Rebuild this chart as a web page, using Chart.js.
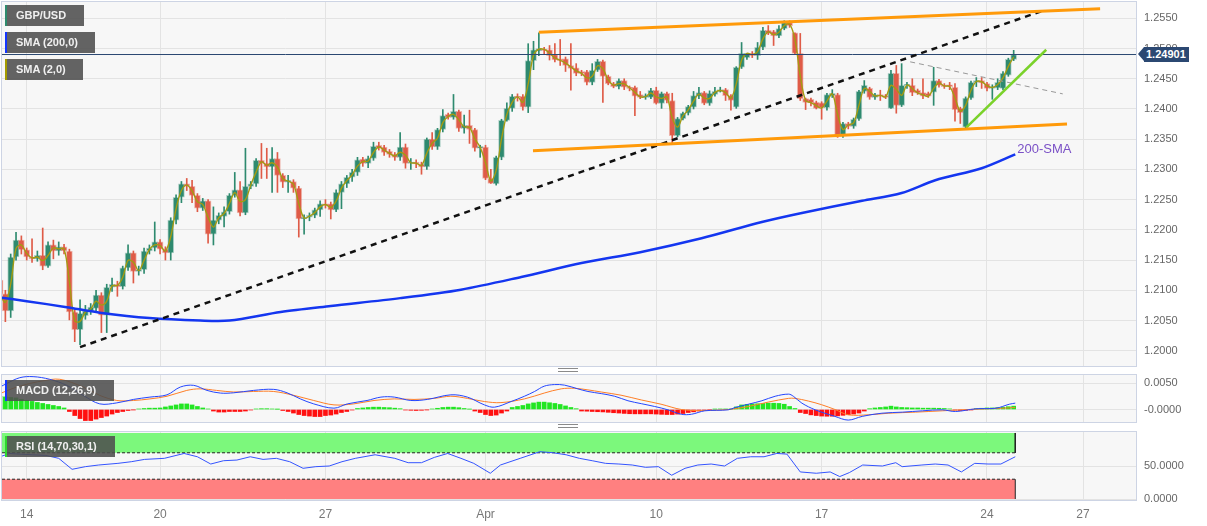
<!DOCTYPE html>
<html>
<head>
<meta charset="utf-8">
<script src="https://cdn.jsdelivr.net/npm/chart.js@4.4.0/dist/chart.umd.min.js"></script>
<style>
  body { margin: 0; background: #fff; width: 1207px; height: 526px; overflow: hidden; position: relative;
         font-family: "Liberation Sans", Arial, sans-serif; }
  canvas { position: absolute; left: 0; }
  .tag { position: absolute; left: 5px; height: 21px; line-height: 21px; box-sizing: border-box;
         background: rgba(78, 78, 78, 0.88); color: #f0f0f0; font-size: 11px; font-weight: bold;
         padding-left: 9px; border-left: 2px solid; white-space: nowrap; }
  .price { position: absolute; height: 15px; line-height: 15px; background: #2b4872; color: #fff;
           font-size: 11px; font-weight: bold; padding: 0 3px 0 2px; }
  .price::before { content: ''; position: absolute; left: -6px; top: 0; border-right: 6px solid #2b4872;
                   border-top: 7.5px solid transparent; border-bottom: 7.5px solid transparent; }
  .smaText { position: absolute; color: #7a50c6; font-size: 13px; }
  .grip { position: absolute; left: 558px; width: 20px; height: 2px; border-top: 1px solid #8a8a8a;
          border-bottom: 1px solid #8a8a8a; }
</style>
</head>
<body>
<canvas id="main" width="1207" height="368" style="top:0"></canvas>
<canvas id="macd" width="1207" height="52" style="top:372px"></canvas>
<canvas id="rsi" width="1207" height="98" style="top:428px"></canvas>

<div class="tag" style="top:5px;width:79px;border-color:#2e8b6e">GBP/USD</div>
<div class="tag" style="top:32px;width:90px;border-color:#1436ff">SMA (200,0)</div>
<div class="tag" style="top:59px;width:78px;border-color:#a39b00">SMA (2,0)</div>
<div class="tag" style="top:380px;width:109px;border-color:#1436ff">MACD (12,26,9)</div>
<div class="tag" style="top:436px;width:110px;border-color:#2fd82f">RSI (14,70,30,1)</div>
<div class="grip" style="top:368px"></div>
<div class="grip" style="top:424px"></div>
<div class="price" id="priceTag">1.24901</div>
<div class="smaText" id="smaText">200-SMA</div>

<script>
// GBP/USD 4-hour chart, 14 Mar - 25 Apr, with MACD and RSI panes
Chart.defaults.font.family = '"Liberation Sans", Arial, sans-serif';
Chart.defaults.animation = false;

// candle index 0 = Mar 14 00:00, one step per 4h bar
const candleStart = -5;
const opens = [
  1.2117,1.2094,1.2066,1.2155,1.2183,1.2167,1.2155,1.2152,1.2158,1.2140,
  1.2175,1.2165,1.2172,1.2165,1.2064,1.2035,1.2058,1.2066,1.2070,1.2092,
  1.2059,1.2105,1.2110,1.2106,1.2137,1.2162,1.2131,1.2134,1.2165,1.2170,
  1.2180,1.2168,1.2162,1.2216,1.2254,1.2276,1.2272,1.2257,1.2236,1.2248,
  1.2193,1.2216,1.2222,1.2230,1.2257,1.2266,1.2228,1.2272,1.2276,1.2315,
  1.2310,1.2304,1.2318,1.2290,1.2279,1.2280,1.2269,1.2218,1.2221,1.2224,
  1.2233,1.2243,1.2243,1.2233,1.2262,1.2276,1.2287,1.2295,1.2317,1.2310,
  1.2318,1.2340,1.2337,1.2330,1.2325,1.2320,1.2337,1.2310,1.2312,1.2309,
  1.2304,1.2350,1.2337,1.2366,1.2391,1.2386,1.2396,1.2368,1.2373,1.2366,
  1.2335,1.2337,1.2285,1.2276,1.2320,1.2381,1.2401,1.2421,1.2421,1.2403,
  1.2480,1.2496,1.2498,1.2498,1.2490,1.2483,1.2483,1.2472,1.2468,1.2462,
  1.2462,1.2444,1.2464,1.2479,1.2454,1.2442,1.2437,1.2447,1.2436,1.2436,
  1.2424,1.2419,1.2419,1.2431,1.2409,1.2426,1.2414,1.2356,1.2384,1.2393,
  1.2403,1.2421,1.2427,1.2409,1.2424,1.2429,1.2432,1.2422,1.2403,1.2469,
  1.2485,1.2492,1.2488,1.2502,1.2530,1.2528,1.2521,1.2533,1.2543,1.2526,
  1.2492,1.2417,1.2416,1.2411,1.2410,1.2402,1.2422,1.2424,1.2356,1.2376,
  1.2371,1.2383,1.2429,1.2434,1.2419,1.2424,1.2422,1.2401,1.2459,1.2406,
  1.2439,1.2439,1.2431,1.2427,1.2426,1.2428,1.2447,1.2440,1.2440,1.2436,
  1.2401,1.2370,1.2418,1.2444,1.2447,1.2442,1.2434,1.2435,1.2434,1.2456,
  1.2482
];
const highs = [
  1.2125,1.2100,1.2160,1.2196,1.2190,1.2170,1.2185,1.2165,1.2203,1.2180,
  1.2183,1.2180,1.2176,1.2168,1.2068,1.2084,1.2075,1.2078,1.2100,1.2096,
  1.2110,1.2120,1.2115,1.2140,1.2175,1.2165,1.2140,1.2170,1.2175,1.2213,
  1.2184,1.2172,1.2220,1.2258,1.2280,1.2285,1.2282,1.2260,1.2252,1.2250,
  1.2238,1.2228,1.2238,1.2260,1.2295,1.2280,1.2335,1.2280,1.2318,1.2343,
  1.2335,1.2336,1.2328,1.2293,1.2290,1.2283,1.2272,1.2225,1.2228,1.2236,
  1.2248,1.2250,1.2246,1.2266,1.2280,1.2290,1.2300,1.2320,1.2320,1.2322,
  1.2345,1.2345,1.2340,1.2333,1.2328,1.2361,1.2342,1.2318,1.2316,1.2312,
  1.2352,1.2361,1.2368,1.2399,1.2393,1.2424,1.2398,1.2390,1.2398,1.2368,
  1.2340,1.2340,1.2300,1.2322,1.2383,1.2410,1.2424,1.2425,1.2424,1.2508,
  1.2512,1.2526,1.2502,1.2505,1.2508,1.2515,1.2486,1.2508,1.2475,1.2464,
  1.2464,1.2475,1.2482,1.2481,1.2456,1.2444,1.2450,1.2450,1.2438,1.2438,
  1.2429,1.2425,1.2434,1.2436,1.2428,1.2428,1.2426,1.2386,1.2395,1.2406,
  1.2429,1.2436,1.2429,1.2430,1.2436,1.2436,1.2434,1.2424,1.2470,1.2510,
  1.2492,1.2495,1.2510,1.2535,1.2538,1.2530,1.2538,1.2546,1.2546,1.2526,
  1.2525,1.2418,1.2418,1.2413,1.2412,1.2426,1.2432,1.2426,1.2378,1.2378,
  1.2385,1.2431,1.2447,1.2436,1.2426,1.2431,1.2424,1.2464,1.2472,1.2475,
  1.2444,1.2450,1.2433,1.2450,1.2428,1.2469,1.2449,1.2442,1.2444,1.2442,
  1.2403,1.2420,1.2446,1.2452,1.2452,1.2444,1.2440,1.2450,1.2462,1.2484,
  1.2497
];
const lows = [
  1.2080,1.2048,1.2055,1.2150,1.2160,1.2150,1.2146,1.2148,1.2134,1.2138,
  1.2152,1.2158,1.2160,1.2051,1.2015,1.2010,1.2052,1.2060,1.2065,1.2030,
  1.2030,1.2098,1.2090,1.2102,1.2133,1.2112,1.2125,1.2128,1.2160,1.2165,
  1.2160,1.2150,1.2150,1.2210,1.2245,1.2265,1.2245,1.2230,1.2232,1.2178,
  1.2175,1.2210,1.2205,1.2226,1.2254,1.2223,1.2225,1.2268,1.2272,1.2285,
  1.2285,1.2262,1.2262,1.2270,1.2262,1.2262,1.2188,1.2193,1.2215,1.2220,
  1.2222,1.2236,1.2218,1.2230,1.2235,1.2270,1.2280,1.2290,1.2305,1.2303,
  1.2315,1.2332,1.2323,1.2320,1.2315,1.2315,1.2302,1.2300,1.2303,1.2292,
  1.2300,1.2333,1.2333,1.2362,1.2383,1.2383,1.2363,1.2360,1.2343,1.2330,
  1.2320,1.2283,1.2277,1.2274,1.2316,1.2380,1.2396,1.2413,1.2398,1.2394,
  1.2465,1.2488,1.2490,1.2481,1.2478,1.2472,1.2462,1.2431,1.2455,1.2455,
  1.2440,1.2440,1.2462,1.2411,1.2440,1.2435,1.2433,1.2432,1.2430,1.2389,
  1.2417,1.2416,1.2417,1.2408,1.2401,1.2410,1.2343,1.2354,1.2382,1.2390,
  1.2400,1.2417,1.2407,1.2406,1.2421,1.2428,1.2414,1.2398,1.2401,1.2467,
  1.2482,1.2485,1.2482,1.2498,1.2523,1.2505,1.2518,1.2531,1.2535,1.2490,
  1.2414,1.2399,1.2405,1.2400,1.2383,1.2398,1.2419,1.2353,1.2353,1.2367,
  1.2368,1.2381,1.2426,1.2416,1.2416,1.2414,1.2417,1.2401,1.2393,1.2404,
  1.2434,1.2422,1.2424,1.2417,1.2419,1.2406,1.2436,1.2434,1.2432,1.2380,
  1.2376,1.2367,1.2416,1.2437,1.2434,1.2430,1.2416,1.2432,1.2432,1.2454,
  1.2480
];
const closes = [
  1.2094,1.2066,1.2155,1.2183,1.2167,1.2155,1.2152,1.2158,1.2140,1.2175,
  1.2165,1.2172,1.2165,1.2064,1.2035,1.2062,1.2066,1.2072,1.2092,1.2059,
  1.2105,1.2110,1.2106,1.2137,1.2162,1.2131,1.2134,1.2165,1.2170,1.2180,
  1.2168,1.2162,1.2216,1.2254,1.2276,1.2272,1.2257,1.2236,1.2248,1.2193,
  1.2216,1.2224,1.2230,1.2257,1.2266,1.2228,1.2272,1.2276,1.2315,1.2310,
  1.2304,1.2318,1.2290,1.2279,1.2282,1.2269,1.2218,1.2221,1.2224,1.2233,
  1.2243,1.2241,1.2233,1.2262,1.2276,1.2287,1.2295,1.2316,1.2310,1.2318,
  1.2338,1.2336,1.2328,1.2325,1.2320,1.2337,1.2310,1.2312,1.2309,1.2304,
  1.2350,1.2337,1.2366,1.2389,1.2386,1.2396,1.2368,1.2373,1.2366,1.2335,
  1.2338,1.2285,1.2277,1.2320,1.2381,1.2401,1.2421,1.2419,1.2403,1.2480,
  1.2498,1.2500,1.2497,1.2488,1.2481,1.2480,1.2472,1.2467,1.2459,1.2459,
  1.2444,1.2464,1.2479,1.2454,1.2442,1.2437,1.2447,1.2436,1.2434,1.2421,
  1.2419,1.2422,1.2431,1.2409,1.2426,1.2414,1.2356,1.2384,1.2393,1.2404,
  1.2422,1.2427,1.2409,1.2426,1.2429,1.2432,1.2422,1.2414,1.2469,1.2492,
  1.2492,1.2488,1.2502,1.2530,1.2525,1.2521,1.2533,1.2543,1.2538,1.2492,
  1.2417,1.2411,1.2410,1.2401,1.2402,1.2424,1.2426,1.2356,1.2376,1.2371,
  1.2383,1.2429,1.2439,1.2419,1.2424,1.2421,1.2419,1.2459,1.2406,1.2439,
  1.2440,1.2427,1.2426,1.2421,1.2421,1.2447,1.2439,1.2437,1.2437,1.2399,
  1.2394,1.2418,1.2444,1.2447,1.2443,1.2434,1.2437,1.2444,1.2459,1.2482,
  1.2490
];
const lastPrice = 1.24901;

// 200-period SMA, read at sample points [candle index, price]
const sma200 = [
  [-5,1.2088],[0,1.2082],[7.5,1.2072],[13.7,1.2063],[23,1.2054],[32.5,1.2050],[38,1.2050],
  [47.6,1.2064],[57,1.2074],[70,1.2087],[81.4,1.2101],[92.7,1.2122],[104,1.2145],[115,1.2163],
  [126.5,1.2186],[137.8,1.2213],[145.3,1.2228],[156.6,1.2248],[164,1.2261],[170.3,1.2282],
  [179,1.2302],[185.3,1.2325]
];

// drawn trend lines [candle index, price]
const channelTop = [[96.0,1.2527],[201.2,1.2566]];
const channelBottom = [[94.9,1.2331],[195.0,1.2375]];
const longSupport = [[10.0,1.2006],[190.9,1.2564]];
const shortSupport = [[176.1,1.2369],[191.1,1.2498]];
const minorResistance = [[165.6,1.2478],[194.2,1.2425]];

// MACD (12,26,9)
const macdHist = [
  0.00247,0.00238,0.00228,0.00219,0.0019,0.00171,0.00152,0.00133,0.00114,0.00095,
  0.00076,0.00057,0.00029,-0.00038,-0.00114,-0.00171,-0.00209,-0.00209,-0.00181,-0.00152,
  -0.00124,-0.00086,-0.00057,-0.00038,-0.00019,-0.00006,0.0001,0.00019,0.00025,0.00025,
  0.00029,0.00048,0.00067,0.00086,0.00105,0.00105,0.00086,0.00057,0.00029,0.0001,
  -0.00029,-0.00048,-0.00048,-0.00038,-0.00038,-0.00038,-0.00029,-0.0001,0.0001,0.00015,
  0.00015,0.0001,0.00004,-0.00019,-0.00038,-0.00067,-0.00095,-0.00114,-0.00124,-0.00133,
  -0.00133,-0.00114,-0.00105,-0.00086,-0.00057,-0.00038,-0.0001,0.00019,0.00029,0.00038,
  0.00044,0.00044,0.00038,0.00034,0.00025,0.00015,-0.0001,-0.00015,-0.00019,-0.00015,
  -0.00006,0.0001,0.00023,0.00038,0.00044,0.00044,0.00034,0.00019,0.00006,-0.00029,
  -0.00057,-0.00095,-0.00114,-0.00105,-0.00067,-0.00029,0.00038,0.00057,0.00076,0.00105,
  0.00124,0.00139,0.00139,0.00127,0.00114,0.00095,0.00067,0.00038,0.00015,-0.00029,
  -0.00032,-0.00038,-0.00042,-0.00046,-0.00053,-0.00061,-0.00067,-0.00074,-0.0008,-0.00082,
  -0.00082,-0.00082,-0.00082,-0.00086,-0.00091,-0.00095,-0.00095,-0.00087,-0.00076,-0.00057,
  -0.00044,-0.00029,-0.00015,-0.00006,0.00006,0.0001,0.0001,0.00006,0.00048,0.00086,
  0.00095,0.00105,0.00108,0.00114,0.0012,0.00118,0.00114,0.00099,0.00057,0.00019,
  -0.00057,-0.00076,-0.00101,-0.00114,-0.00124,-0.00127,-0.00127,-0.0012,-0.0011,-0.00099,
  -0.00086,-0.00067,-0.00029,0.00015,0.00029,0.00038,0.00048,0.00063,0.00048,0.00038,
  0.00034,0.00029,0.00029,0.00025,0.00025,0.00025,0.00023,0.00019,0.00011,-0.00011,
  -0.00019,-0.00015,-0.00006,0.00015,0.00023,0.00029,0.00029,0.00034,0.00042,0.00053,
  0.00063
];
const macdLine = [
  [-5,0.00424],[-3.8,0.00487],[-1.3,0.0060],[1.2,0.0062],[4.3,0.0057],[7.5,0.00456],[10.6,0.00266],
  [13.7,0.00106],[16.9,0.00125],[20,0.0019],[23.1,0.00234],[26.3,0.00277],[28.8,0.00424],[31.3,0.00456],
  [33.8,0.0036],[36.3,0.0031],[38.8,0.00315],[42.5,0.0036],[46.3,0.0038],[48.8,0.00315],[51.3,0.002],
  [53.8,0.00106],[57.6,0.00025],[60.1,0.00106],[63.8,0.0017],[66.4,0.00234],[68.9,0.00234],[72,0.0017],
  [75.1,0.0019],[79.5,0.00277],[82.6,0.00234],[85.8,0.00087],[87.7,0.00044],[90.8,0.0015],[93.3,0.0025],
  [95.2,0.0034],[97,0.0044],[98.9,0.0047],[100.8,0.0046],[103.3,0.0039],[105.2,0.0034],[107.7,0.003],
  [110.2,0.0025],[112.7,0.00165],[115.2,0.0011],[117.7,0.00057],[120.2,-0.00006],[122.7,-0.0009],
  [124.6,-0.0009],[127.1,-0.00025],[131.5,-0.00006],[132.8,0.00038],[135.3,0.001],[137.8,0.00165],
  [140.3,0.0025],[142.8,0.0029],[143.7,0.0025],[145.3,0.0012],[147.8,-0.00006],[151.5,-0.0013],
  [154,-0.002],[156.6,-0.0013],[160.3,-0.0007],[164.2,-0.0005],[167.9,-0.00025],[171.6,-0.00006],
  [174.1,-0.00038],[177.9,0.00013],[181.7,0.00025],[184.2,0.001],[185.3,0.0012]
];
const signalLine = [
  [-5,0.0030],[-2,0.0042],[1,0.0050],[3,0.0054],[6.2,0.0057],[10.6,0.00424],[13.7,0.00266],
  [16.9,0.0017],[20,0.0017],[23.1,0.002],[26.3,0.0025],[30,0.0036],[32.5,0.0039],[35.6,0.0036],
  [38.8,0.0033],[42.5,0.0034],[46.3,0.0034],[50.1,0.00266],[53.8,0.0017],[57.6,0.00087],[61.3,0.00106],
  [65.1,0.0017],[68.9,0.002],[72.6,0.0019],[76.4,0.0021],[79.5,0.0025],[82.6,0.0021],[85.8,0.0015],
  [88.9,0.0013],[93.3,0.002],[97,0.0031],[100.2,0.0039],[102.7,0.004],[105.2,0.0037],[107.7,0.0033],
  [111.4,0.0027],[115.2,0.0018],[118.9,0.001],[122.7,0],[126.5,-0.0002],[131.5,0],[135.3,0.00057],
  [139,0.0014],[142.8,0.0021],[144,0.0021],[146.5,0.0016],[149,0.0009],[151.5,0],[154,-0.001],
  [157.8,-0.001],[161.6,-0.0007],[166.6,-0.0005],[171.6,-0.00025],[176.6,0],[184.2,0.0003],[185.3,0.0004]
];

// RSI (14), read at sample points
const rsiLine = [
  [-5,64],[-3.2,69],[-1.4,68],[1.1,67],[3.6,66],[6,61.6],[8.5,45],[11,49],[13.5,51.5],[17.1,54],
  [19.6,56.5],[22.1,60],[25.8,61.6],[29.5,69],[32,64],[34.5,53],[36.9,58],[39.4,59],[41.9,64],[44.3,60],
  [46.8,61.6],[49.3,56.5],[51.8,46.5],[54.2,49],[56.7,50],[59.1,56.5],[61.6,61.6],[65.3,67],[69,61.6],
  [71.5,55],[74,55],[76.4,63],[78.9,69],[81.4,61.6],[83.8,54],[86.9,39],[88.8,51.5],[92.5,61.6],
  [96.2,71.7],[98.7,70],[101.1,67],[103.6,61.6],[106,58],[108.5,54],[111,53],[113.5,51.5],[116,48],
  [118.4,49],[120.9,36],[123.4,46.5],[125.8,51.5],[128.3,53],[130.8,50],[133.2,61.6],[135.7,64],
  [138.2,64],[140.6,69],[142.5,68],[145,41],[148,39],[150.6,41],[152.4,34],[154.2,40],[156.7,51.5],
  [160.4,50],[162.9,55],[164.1,49],[167.8,51.5],[170.3,53],[172.7,51.5],[175.2,41],[177.7,54],
  [180.2,53],[182.6,53],[185.3,64]
];
const rsiOverbought = 70;
const rsiOversold = 30;

const dateTickPos = [0, 25, 56, 86, 118, 149, 180, 198];
const dateTickLabels = ['14', '20', '27', 'Apr', '10', '17', '24', '27'];
const priceTicks = [1.2000,1.2050,1.2100,1.2150,1.2200,1.2250,1.2300,1.2350,1.2400,1.2450,1.2500,1.2550];
const macdTicks = [0, 0.005];
const rsiTicks = [0, 50];

// layout
const X_MIN = -4.63, X_MAX = 207.93;
const AXIS_W = 71;
const GREEN = '#2e8a6f', RED = '#df5b47';
const GRID = '#e3e3e3';

const candleIdx = opens.map((_, k) => candleStart + k);
const isUp = k => closes[k] >= opens[k];
const pts = arr => arr.map(p => ({ x: p[0], y: p[1] }));
const lastIdx = candleIdx[candleIdx.length - 1];
const bandEnd = lastIdx + 0.3;

const panelFrame = {
  id: 'panelFrame',
  beforeDraw(chart) {
    const { ctx, chartArea: a } = chart;
    ctx.save();
    ctx.fillStyle = '#f7f7f7';
    ctx.fillRect(a.left, a.top, a.width, a.height);
    ctx.restore();
  },
  afterDraw(chart) {
    const { ctx, chartArea: a } = chart;
    ctx.save();
    ctx.strokeStyle = '#cdd4e4';
    ctx.lineWidth = 1;
    ctx.strokeRect(a.left - 0.5, a.top - 0.5, a.width + 1, a.height + 1);
    ctx.restore();
  }
};

function xAxis(showLabels) {
  return {
    type: 'linear', min: X_MIN, max: X_MAX, offset: false,
    afterBuildTicks: s => { s.ticks = dateTickPos.map(v => ({ value: v })); },
    afterFit: s => {
      s.height = showLabels ? 26 : 0;
      s.paddingLeft = 0; s.paddingRight = 0;
    },
    grid: { color: GRID, drawTicks: false, offset: false },
    border: { display: false },
    ticks: {
      display: showLabels, autoSkip: false, maxRotation: 0, padding: 7,
      color: '#777', font: { size: 12 },
      callback: (v, i) => dateTickLabels[i]
    }
  };
}

function yAxis(min, max, tickList, fmt) {
  return {
    position: 'right', min, max,
    afterBuildTicks: s => { s.ticks = tickList.map(v => ({ value: v })); },
    afterFit: s => {
      s.width = AXIS_W;
      s.paddingTop = 0; s.paddingBottom = 0;
    },
    grid: { color: GRID, drawTicks: false },
    border: { display: false },
    ticks: { color: '#666', font: { size: 11 }, padding: 8, callback: fmt }
  };
}

function trend(data, color, width, dash) {
  return {
    type: 'line', data: pts(data), borderColor: color, borderWidth: width,
    borderDash: dash || [], pointRadius: 0, borderCapStyle: 'butt', order: 1
  };
}

const baseOpts = {
  responsive: false,
  events: [],
  plugins: { legend: { display: false }, tooltip: { enabled: false } }
};

const mainChart = new Chart(document.getElementById('main'), {
  type: 'bar',
  data: {
    datasets: [
      {
        label: 'wicks',
        data: candleIdx.map((j, k) => ({ x: j, y: [lows[k], highs[k]] })),
        backgroundColor: c => isUp(c.dataIndex) ? GREEN : RED,
        barThickness: 1, grouped: false, order: 10
      },
      {
        label: 'GBP/USD',
        data: candleIdx.map((j, k) => ({ x: j, y: [opens[k], closes[k]] })),
        backgroundColor: c => isUp(c.dataIndex) ? GREEN : RED,
        borderColor: c => isUp(c.dataIndex) ? 'rgba(46,138,111,0.35)' : 'rgba(223,91,71,0.4)',
        borderWidth: 1, borderSkipped: false, barThickness: 6, minBarLength: 1,
        grouped: false, order: 9
      },
      {
        type: 'line', label: 'SMA (2,0)',
        data: candleIdx.map((j, k) => ({ x: j, y: k ? (closes[k] + closes[k - 1]) / 2 : closes[k] })),
        borderColor: '#a39b12', borderWidth: 1.4, pointRadius: 0, tension: 0.35, order: 8
      },
      {
        type: 'line', label: 'last',
        data: [{ x: X_MIN, y: lastPrice }, { x: X_MAX, y: lastPrice }],
        borderColor: '#2b4872', borderWidth: 1, pointRadius: 0, order: 7
      },
      {
        type: 'line', label: 'SMA (200,0)', data: pts(sma200),
        borderColor: '#1436f0', borderWidth: 2.5, pointRadius: 0, tension: 0.3, order: 6
      },
      trend(channelTop, '#ff9a0a', 3),
      trend(channelBottom, '#ff9a0a', 3),
      trend(longSupport, '#111', 2.5, [6, 5]),
      trend(shortSupport, '#7ad22a', 2.5),
      trend(minorResistance, '#999', 1, [5, 4])
    ]
  },
  options: {
    ...baseOpts,
    layout: { padding: { left: 2, right: 0, top: 2, bottom: 2 } },
    scales: {
      x: xAxis(false),
      y: yAxis(1.19747, 1.25770, priceTicks, v => v.toFixed(4))
    }
  },
  plugins: [panelFrame]
});

new Chart(document.getElementById('macd'), {
  type: 'bar',
  data: {
    datasets: [
      {
        label: 'hist',
        data: candleIdx.map((j, k) => ({ x: j, y: macdHist[k] })),
        backgroundColor: c => macdHist[c.dataIndex] >= 0 ? '#22e622' : '#ff1010',
        barThickness: 4, grouped: false, order: 3
      },
      {
        type: 'line', label: 'signal', data: pts(signalLine),
        borderColor: '#ff7f27', borderWidth: 1, pointRadius: 0, tension: 0.35, order: 2
      },
      {
        type: 'line', label: 'MACD', data: pts(macdLine),
        borderColor: '#2446ff', borderWidth: 1, pointRadius: 0, tension: 0.35, order: 1
      }
    ]
  },
  options: {
    ...baseOpts,
    layout: { padding: { left: 2, right: 0, top: 3, bottom: 2 } },
    scales: {
      x: xAxis(false),
      y: yAxis(-0.00236, 0.00651, macdTicks, v => v === 0 ? '-0.0000' : v.toFixed(4))
    }
  },
  plugins: [panelFrame]
});

function bandEdge(level, from) {
  return [
    { type: 'line', data: [{ x: X_MIN, y: level }, { x: bandEnd, y: level }], borderColor: '#222',
      borderWidth: 1, borderDash: [3, 2], pointRadius: 0, order: 2 },
    { type: 'line', data: [{ x: bandEnd, y: from }, { x: bandEnd, y: level }], borderColor: '#222',
      borderWidth: 1, pointRadius: 0, order: 2 }
  ];
}

new Chart(document.getElementById('rsi'), {
  type: 'line',
  data: {
    datasets: [
      { data: [{ x: X_MIN, y: 100 }, { x: bandEnd, y: 100 }], fill: { value: rsiOverbought },
        backgroundColor: '#7cf87c', borderWidth: 0, pointRadius: 0, order: 5 },
      { data: [{ x: X_MIN, y: rsiOversold }, { x: bandEnd, y: rsiOversold }], fill: { value: 0 },
        backgroundColor: '#ff8080', borderWidth: 0, pointRadius: 0, order: 5 },
      ...bandEdge(rsiOverbought, 100),
      ...bandEdge(rsiOversold, 0),
      { label: 'RSI', data: pts(rsiLine), borderColor: '#3454ff', borderWidth: 1, pointRadius: 0, order: 1 }
    ]
  },
  options: {
    ...baseOpts,
    layout: { padding: { left: 2, right: 0, top: 4, bottom: 0 } },
    scales: {
      x: xAxis(true),
      y: yAxis(-1.5, 101.5, rsiTicks, v => v.toFixed(4))
    }
  },
  plugins: [panelFrame]
});

// price tag and 200-SMA caption, placed through the main chart's scales
const sx = mainChart.scales.x, sy = mainChart.scales.y;
const tag = document.getElementById('priceTag');
tag.style.left = (mainChart.chartArea.right + 8) + 'px';
tag.style.top = (sy.getPixelForValue(lastPrice) - 7.5) + 'px';
const lastSma = sma200[sma200.length - 1];
const smaText = document.getElementById('smaText');
smaText.style.left = (sx.getPixelForValue(lastSma[0]) + 2) + 'px';
smaText.style.top = (sy.getPixelForValue(lastSma[1]) - 13) + 'px';
</script>
</body>
</html>
